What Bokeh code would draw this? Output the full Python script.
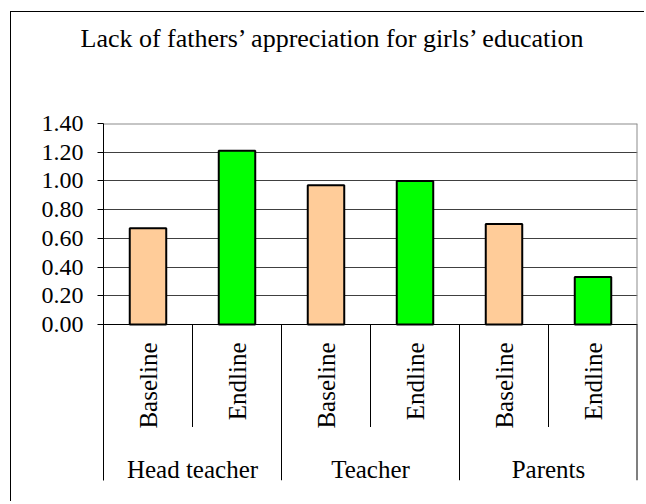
import math
from bokeh.plotting import figure
from bokeh.models import FactorRange, Range1d, FixedTicker, NumeralTickFormatter, ColumnDataSource, Title
from bokeh.core.properties import value
from bokeh.embed import file_html
from bokeh.resources import INLINE

# ---- data ----
title_text = "Lack of fathers\u2019 appreciation for girls\u2019 education"
groups = ["Head teacher", "Teacher", "Parents"]
rounds = ["Baseline", "Endline"]
baseline = [0.67, 0.97, 0.70]
endline = [1.21, 1.00, 0.33]
y_ticks = [0.0, 0.2, 0.4, 0.6, 0.8, 1.0, 1.2, 1.4]
round_colors = ["#FFCC99", "#00FF00"]

FONT = "Liberation Serif"

factors = [(g, r) for g in groups for r in rounds]
tops = []
colors = []
for b, e in zip(baseline, endline):
    tops += [b, e]
    colors += round_colors

# ---- layout (canvas pixels; canvas origin at page (11, 12)) ----
OX, OY = 11, 12
W, H = 634, 490
FL, FR, FT, FB = 103 - OX, 637 - OX, 123 - OY, 480 - OY
Y0PX = 324 - OY
YMAX = y_ticks[-1]
ppu = (Y0PX - FT) / YMAX
YMIN = -(FB - Y0PX) / ppu

p = figure(width=W, height=H,
           x_range=FactorRange(*factors, factor_padding=0, group_padding=0, range_padding=0),
           y_range=Range1d(YMIN, YMAX),
           x_axis_location=None,
           output_backend="svg", toolbar_location=None,
           min_border_left=FL, min_border_right=W - FR,
           min_border_top=FT, min_border_bottom=H - FB)
p.outline_line_color = None
p.background_fill_color = "white"
p.border_fill_color = "white"
p.styles = {"margin-left": "10px", "margin-top": "11px",
            "border-left": "1px solid black", "border-top": "1px solid black"}

# title (outermost above panel) and an empty spacer panel between it and the frame
p.title = Title(text=title_text, align="left", offset=80 - OX - FL, standoff=10,
                text_font=FONT, text_font_size="26px", text_font_style="normal",
                text_color="black")
p.add_layout(Title(text=" ", text_font_size="2px", standoff=62), "above")

ax = p.yaxis[0]
ax.ticker = FixedTicker(ticks=y_ticks)
ax.formatter = NumeralTickFormatter(format="0.00")
ax.bounds = (YMIN, YMAX)
ax.axis_line_color = "black"
ax.axis_line_width = 1
ax.major_tick_line_color = "black"
ax.major_tick_out = 6
ax.major_tick_in = 0
ax.minor_tick_line_color = None
ax.major_label_standoff = 14
ax.major_label_text_font = FONT
ax.major_label_text_font_size = "24px"
ax.major_label_text_color = "black"

p.xgrid.visible = False
p.ygrid.grid_line_color = "#404040"
p.ygrid.grid_line_width = 1

n = len(factors)
# zero line
p.segment(x0=[0], y0=[0], x1=[n], y1=[0], line_color="black", line_width=1)

src = ColumnDataSource(dict(x=factors, top=tops, color=colors))
p.vbar(x="x", top="top", bottom=0, width=0.41, source=src,
       fill_color="color", line_color="black", line_width=2)

# plot-area border (top and right, gray)
p.segment(x0=[0, n], y0=[YMAX, 0], x1=[n, n], y1=[YMAX, YMAX], line_color="#8c8c8c", line_width=2)

# category separators below the axis
inner = [i for i in range(1, n, 2)]
outer = [i for i in range(2, n, 2)]
SUB_BOTTOM = -(426.5 - OY - Y0PX) / ppu
p.segment(x0=inner, y0=[0] * len(inner), x1=inner, y1=[SUB_BOTTOM] * len(inner),
          line_color="black", line_width=1)
p.segment(x0=outer, y0=[0] * len(outer), x1=outer, y1=[YMIN] * len(outer),
          line_color="black", line_width=1)
p.segment(x0=[n], y0=[0], x1=[n], y1=[YMIN], line_color="black", line_width=2)

# sub-category labels (rotated)
SUB_LABEL_Y = -(342 - OY - Y0PX) / ppu
p.text(x=factors, y=[SUB_LABEL_Y] * n, text=[r for g, r in factors],
       angle=math.pi / 2, text_align="right", text_baseline="middle",
       text_font=value(FONT), text_font_size=value("25px"), text_color="black")

# group labels
GROUP_LABEL_Y = -(468.5 - OY - Y0PX) / ppu
p.text(x=groups, y=[GROUP_LABEL_Y] * len(groups), text=groups,
       text_align="center", text_baseline="alphabetic",
       text_font=value(FONT), text_font_size=value("25px"), text_color="black")

open("out.html", "w").write(file_html(p, INLINE))
